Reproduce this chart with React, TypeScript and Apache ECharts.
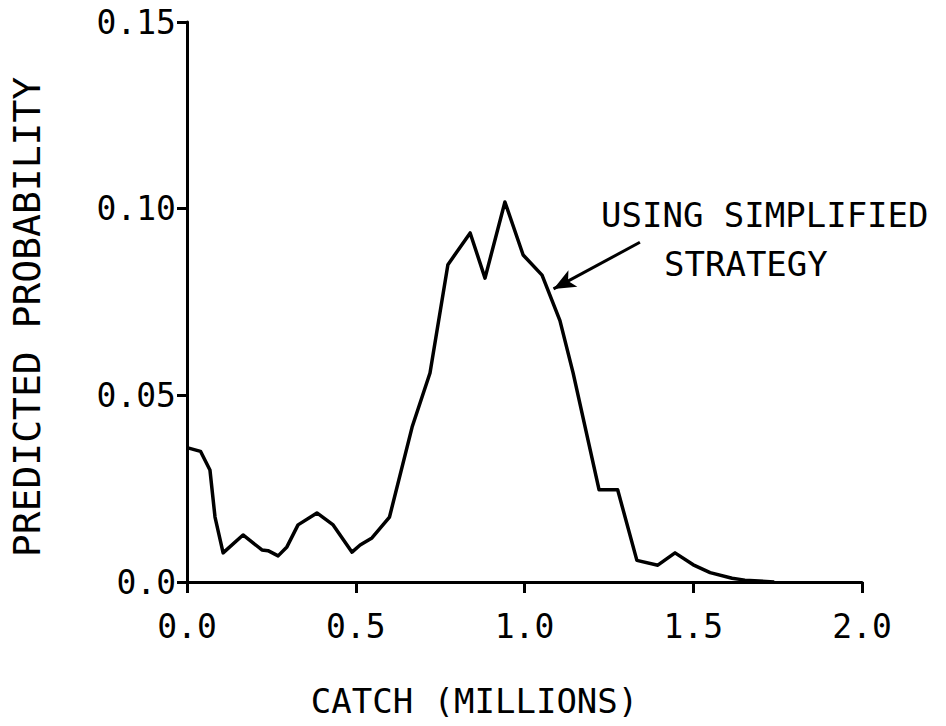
import React, { useEffect, useRef } from "react";
import * as echarts from "echarts";

const catchMillions = [0, 0.04, 0.068, 0.083, 0.107, 0.166, 0.222, 0.24, 0.27, 0.296, 0.329, 0.385, 0.433, 0.489, 0.513, 0.548, 0.6, 0.667, 0.72, 0.773, 0.839, 0.883, 0.942, 0.996, 1.052, 1.105, 1.144, 1.221, 1.276, 1.333, 1.395, 1.446, 1.5, 1.55, 1.615, 1.653, 1.74];
const probability = [0.036, 0.035, 0.03, 0.0174, 0.0078, 0.0126, 0.0086, 0.0084, 0.007, 0.0094, 0.0153, 0.0185, 0.0153, 0.008, 0.0099, 0.0118, 0.0174, 0.0415, 0.056, 0.085, 0.0935, 0.0814, 0.1018, 0.0876, 0.0822, 0.07, 0.056, 0.0247, 0.0247, 0.0058, 0.0045, 0.0078, 0.0046, 0.0025, 0.001, 0.0005, 0.0];
const arrowTail = [1.342, 0.091];
const arrowTip = [1.086, 0.0785];
const xTicks = [0, 0.5, 1.0, 1.5, 2.0];
const yTicks = [0, 0.05, 0.1, 0.15];

const FONT = "DejaVu Sans Mono";

export default function App() {
  const ref = useRef<HTMLDivElement>(null);
  useEffect(() => {
    if (!ref.current) return;
    const chart = echarts.init(ref.current, null, { renderer: "svg" });
    chart.setOption({
      animation: false,
      backgroundColor: "#ffffff",
      grid: { left: 187, right: 84, top: 22, bottom: 144, containLabel: false },
      xAxis: {
        type: "value",
        min: xTicks[0],
        max: xTicks[xTicks.length - 1],
        interval: 0.5,
        name: "CATCH (MILLIONS)",
        nameLocation: "middle",
        nameGap: 102,
        nameTextStyle: { fontFamily: FONT, fontSize: 34, color: "#000", padding: [0, 100, 0, 0] },
        axisLine: { show: true, onZero: false, lineStyle: { color: "#000", width: 3 } },
        axisTick: { show: true, inside: false, length: 11, lineStyle: { color: "#000", width: 3 } },
        axisLabel: {
          fontFamily: FONT, fontSize: 33, color: "#000", margin: 28,
          formatter: (v: number) => v.toFixed(1),
        },
        splitLine: { show: false },
      },
      yAxis: {
        type: "value",
        min: yTicks[0],
        max: yTicks[yTicks.length - 1],
        interval: 0.05,
        name: "PREDICTED PROBABILITY",
        nameLocation: "middle",
        nameGap: 141,
        nameTextStyle: { fontFamily: FONT, fontSize: 38, color: "#000", padding: [0, 30, 0, 0] },
        axisLine: { show: true, onZero: false, lineStyle: { color: "#000", width: 3 } },
        axisTick: { show: true, inside: false, length: 10, lineStyle: { color: "#000", width: 3 } },
        axisLabel: {
          fontFamily: FONT, fontSize: 33, color: "#000", margin: 11,
          formatter: (v: number) => (v === 0 ? "0.0" : v.toFixed(2)),
        },
        splitLine: { show: false },
      },
      series: [
        {
          type: "line",
          data: catchMillions.map((x, i) => [x, probability[i]]),
          showSymbol: false,
          symbol: "none",
          smooth: false,
          lineStyle: { color: "#000", width: 3.5, join: "round" },
          markLine: {
            silent: true,
            symbol: ["none", "arrow"],
            symbolSize: [14, 22],
            label: { show: false },
            lineStyle: { color: "#000", width: 3, type: "solid" },
            data: [[{ coord: arrowTail }, { coord: arrowTip }]],
          },
        },
      ],
      graphic: [
        {
          type: "text",
          left: 601,
          top: 198,
          style: { text: "USING SIMPLIFIED", fontFamily: FONT, fontSize: 34, fill: "#000" },
        },
        {
          type: "text",
          left: 664,
          top: 247,
          style: { text: "STRATEGY", fontFamily: FONT, fontSize: 34, fill: "#000" },
        },
      ],
    });
    return () => chart.dispose();
  }, []);
  return <div ref={ref} style={{ position: "fixed", left: 0, top: 0, width: 946, height: 726 }} />;
}
